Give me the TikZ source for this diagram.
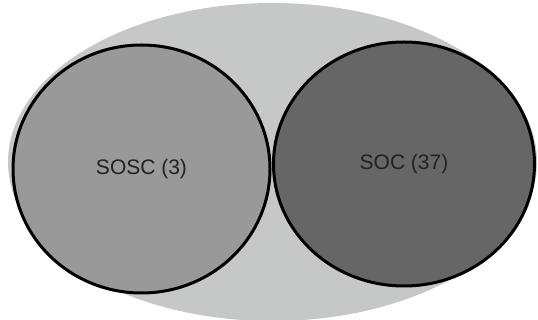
\documentclass[tikz,border=0pt]{standalone}
\usepackage{fontspec}
\setmainfont{Liberation Sans}
\usetikzlibrary{shapes.geometric, positioning}

\definecolor{outergray}{HTML}{C6C7C7}
\definecolor{sosclight}{HTML}{999999}
\definecolor{socdark}{HTML}{666666}
\definecolor{labeltext}{HTML}{222222}

\tikzset{
    set/.style={ellipse, draw=black, line width=3pt, inner sep=0pt,
                text=labeltext, font=\fontsize{21}{25}\selectfont}
}

\begin{document}
\begin{tikzpicture}[x=1pt, y=-1pt]
            \useasboundingbox (0,0) rectangle (538,320);
            \fill[white] (0,0) rectangle (538,320);

            \node [ellipse, fill=outergray, minimum width=529pt, minimum height=318pt, inner sep=0pt] (all) at (272.5,162){};
            \node [set, fill=sosclight, minimum width=257pt, minimum height=248pt] (sosc) at (141.5,169){SOSC (3)};
            \node [set, fill=socdark, minimum width=261pt, minimum height=244pt] (soc) at (404,164){SOC (37)};
        \end{tikzpicture}
\end{document}
